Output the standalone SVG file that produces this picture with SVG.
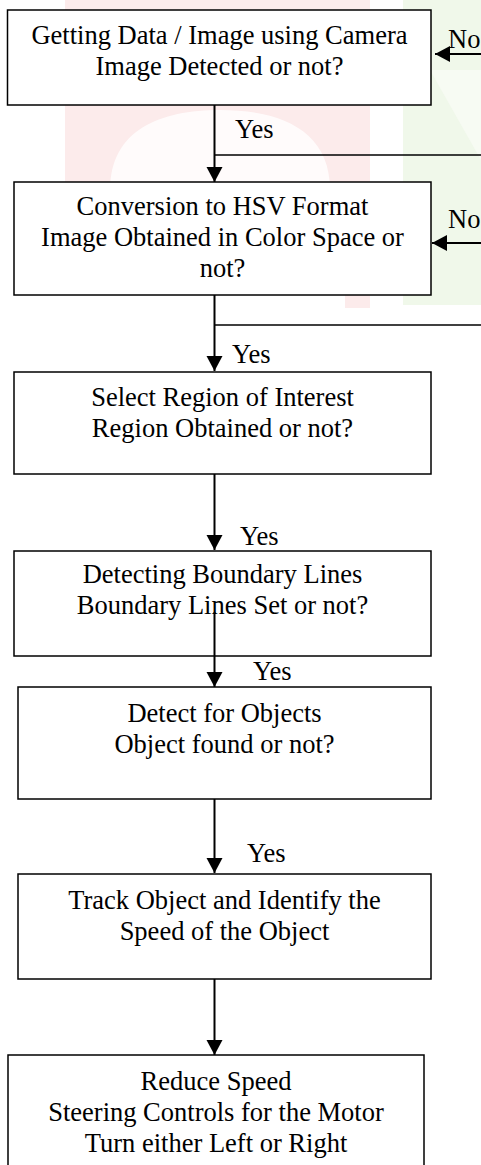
<svg xmlns="http://www.w3.org/2000/svg" width="481" height="1165" viewBox="0 0 481 1165">
<style>
.box{fill:#ffffff;stroke:#000000;stroke-width:1.5}
.t{font-family:'Liberation Serif','Tinos','Times New Roman','DejaVu Serif',serif;font-size:26.5px;fill:#000000;text-anchor:middle}
.lbl{font-family:'Liberation Serif','Tinos','Times New Roman','DejaVu Serif',serif;font-size:26.5px;fill:#000000}
.v{stroke:#000000;stroke-width:2;fill:none}
.h{stroke:#000000;stroke-width:1.3;fill:none}
</style>
<defs>
<marker id="ah" markerUnits="userSpaceOnUse" markerWidth="16" markerHeight="18" refX="15" refY="8" orient="auto">
<path d="M0,0 L15,8 L0,16 Z" fill="#000000"/>
</marker>
</defs>
<rect width="481" height="1165" fill="#ffffff"/>
<g id="watermark">
<rect x="65" y="0" width="305" height="190" fill="#fcebeb"/>
<path d="M110,190 C110,130 160,110 220,110 C280,110 330,130 330,190 Z" fill="#ffffff" opacity="0.8"/>
<rect x="345" y="290" width="25" height="18" fill="#fcebeb"/>
<rect x="403" y="0" width="78" height="305" fill="#f0f8ea"/>
<path d="M430,70 L481,70 L481,160 Z" fill="#f7fbf3"/>
</g>
<g id="connectors">
<line class="v" x1="214.5" y1="105" x2="214.5" y2="182" marker-end="url(#ah)"/>
<line class="v" x1="214.5" y1="295" x2="214.5" y2="371" marker-end="url(#ah)"/>
<line class="v" x1="214.5" y1="474" x2="214.5" y2="550" marker-end="url(#ah)"/>
<line class="v" x1="214.5" y1="612" x2="214.5" y2="687" marker-end="url(#ah)"/>
<line class="v" x1="214.5" y1="799" x2="214.5" y2="873" marker-end="url(#ah)"/>
<line class="v" x1="214.5" y1="979" x2="214.5" y2="1055" marker-end="url(#ah)"/>
<line class="h" x1="214.5" y1="155" x2="481" y2="155"/>
<line class="h" x1="214.5" y1="325" x2="481" y2="325"/>
<line class="v" x1="481" y1="54" x2="435" y2="54" marker-end="url(#ah)"/>
<line class="v" x1="481" y1="243" x2="432" y2="243" marker-end="url(#ah)"/>
<text class="lbl" x="235" y="138">Yes</text>
<text class="lbl" x="448" y="48">No</text>
<text class="lbl" x="448" y="228">No</text>
<text class="lbl" x="232" y="363">Yes</text>
<text class="lbl" x="240" y="545">Yes</text>
<text class="lbl" x="253" y="680">Yes</text>
<text class="lbl" x="247" y="862">Yes</text>
</g>
<g id="n1">
<rect class="box" x="7.5" y="10" width="423.5" height="95"/>
<text class="t" x="219.5" y="44">Getting Data / Image using Camera</text>
<text class="t" x="219.5" y="75">Image Detected or not?</text>
</g>
<g id="n2">
<rect class="box" x="14" y="182" width="417" height="113"/>
<text class="t" x="222.5" y="215">Conversion to HSV Format</text>
<text class="t" x="222.5" y="246">Image Obtained in Color Space or</text>
<text class="t" x="222.5" y="277">not?</text>
</g>
<g id="n3">
<rect class="box" x="14" y="372" width="417" height="102"/>
<text class="t" x="222.5" y="406">Select Region of Interest</text>
<text class="t" x="222.5" y="437">Region Obtained or not?</text>
</g>
<g id="n4">
<rect class="box" x="14" y="551" width="417" height="105"/>
<text class="t" x="222.5" y="583">Detecting Boundary Lines</text>
<text class="t" x="222.5" y="614">Boundary Lines Set or not?</text>
</g>
<g id="n5">
<rect class="box" x="18" y="687" width="413" height="112"/>
<text class="t" x="224.5" y="722">Detect for Objects</text>
<text class="t" x="224.5" y="753">Object found or not?</text>
</g>
<g id="n6">
<rect class="box" x="18" y="874" width="413" height="105"/>
<text class="t" x="224.5" y="909">Track Object and Identify the</text>
<text class="t" x="224.5" y="940">Speed of the Object</text>
</g>
<g id="n7">
<rect class="box" x="8" y="1055" width="416" height="120"/>
<text class="t" x="216" y="1090">Reduce Speed</text>
<text class="t" x="216" y="1121">Steering Controls for the Motor</text>
<text class="t" x="216" y="1152">Turn either Left or Right</text>
</g>
<line class="v" x1="214.5" y1="612" x2="214.5" y2="656"/>
</svg>
